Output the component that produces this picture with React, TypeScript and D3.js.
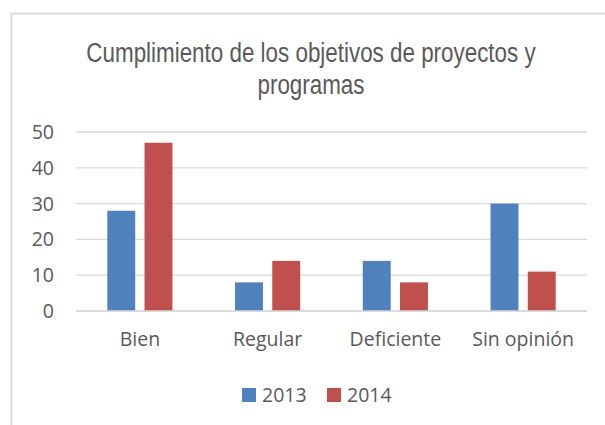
import React, { useEffect, useRef } from 'react';
import * as d3 from 'd3';

const categories = ['Bien', 'Regular', 'Deficiente', 'Sin opinión'];
const seriesNames = ['2013', '2014'];
const values2013 = [28, 8, 14, 30];
const values2014 = [47, 14, 8, 11];
const yTicks = [0, 10, 20, 30, 40, 50];
const titleLines = ['Cumplimiento de los objetivos de proyectos y', 'programas'];

const colors = ['#4f81bd', '#c0504d'];
const textColor = '#595959';
const labelFont = '"Open Sans", "Noto Sans", sans-serif';
const titleFont = '"Liberation Sans", Arial, sans-serif';

export default function App() {
  const svgRef = useRef<SVGSVGElement | null>(null);

  useEffect(() => {
    const svg = d3.select(svgRef.current);
    svg.selectAll('*').remove();

    const width = 605;
    const height = 425;
    const plot = { left: 76, right: 587, top: 132, bottom: 311 };

    // chart frame (only top and left show, the rest is cut off)
    svg.append('rect')
      .attr('x', 11.5).attr('y', 13.5)
      .attr('width', 620).attr('height', 430)
      .attr('fill', '#fff')
      .attr('stroke', '#d9d9d9')
      .attr('stroke-width', 2);

    const x0 = d3.scaleBand().domain(categories).range([plot.left, plot.right]).paddingInner(0.49).paddingOuter(0.245);
    const x1 = d3.scaleBand().domain(seriesNames).range([0, x0.bandwidth()]).paddingInner(0.25);
    const y = d3.scaleLinear().domain([0, 50]).range([plot.bottom, plot.top]);

    // title (narrow look: squeeze horizontally)
    const titleCx = 311;
    svg.append('g')
      .attr('transform', 'translate(' + titleCx + ',0) scale(0.8,1)')
      .selectAll('text')
      .data(titleLines)
      .join('text')
      .attr('x', 0)
      .attr('y', (d, i) => 62 + i * 32)
      .attr('text-anchor', 'middle')
      .attr('font-family', titleFont)
      .attr('font-size', 28)
      .attr('fill', textColor)
      .text(d => d);

    // gridlines
    svg.append('g').selectAll('line')
      .data(yTicks)
      .join('line')
      .attr('x1', plot.left).attr('x2', plot.right)
      .attr('y1', d => y(d)).attr('y2', d => y(d))
      .attr('stroke', '#d9d9d9')
      .attr('stroke-width', 1.3);

    // y labels
    svg.append('g').selectAll('text')
      .data(yTicks)
      .join('text')
      .attr('x', 54)
      .attr('y', d => y(d) + 7)
      .attr('text-anchor', 'end')
      .attr('font-family', labelFont)
      .attr('font-size', 19.5)
      .attr('fill', textColor)
      .text(d => d);

    // bars
    const rows = categories.map((c, i) => ({ c, vals: [values2013[i], values2014[i]] }));
    const groups = svg.append('g').selectAll('g')
      .data(rows)
      .join('g')
      .attr('transform', d => 'translate(' + x0(d.c) + ',0)');
    groups.selectAll('rect')
      .data(d => d.vals.map((v, j) => ({ v, s: seriesNames[j], j })))
      .join('rect')
      .attr('x', d => x1(d.s)!)
      .attr('width', x1.bandwidth())
      .attr('y', d => y(d.v))
      .attr('height', d => y(0) - y(d.v))
      .attr('fill', d => colors[d.j]);

    // redraw baseline on top
    svg.append('line')
      .attr('x1', plot.left).attr('x2', plot.right)
      .attr('y1', y(0)).attr('y2', y(0))
      .attr('stroke', '#d9d9d9').attr('stroke-width', 1.3);

    // category labels
    svg.append('g').selectAll('text')
      .data(categories)
      .join('text')
      .attr('x', d => x0(d)! + x0.bandwidth() / 2)
      .attr('y', 346)
      .attr('text-anchor', 'middle')
      .attr('font-family', labelFont)
      .attr('font-size', 19.5)
      .attr('fill', textColor)
      .text(d => d);

    // legend
    const legendX = [242, 327];
    const legend = svg.append('g').selectAll('g')
      .data(seriesNames)
      .join('g')
      .attr('transform', (d, i) => 'translate(' + legendX[i] + ',388)');
    legend.append('rect')
      .attr('width', 14).attr('height', 14)
      .attr('fill', (d, i) => colors[i]);
    legend.append('text')
      .attr('x', 20).attr('y', 14)
      .attr('font-family', labelFont)
      .attr('font-size', 19.5)
      .attr('fill', textColor)
      .text(d => d);

    svg.attr('width', width).attr('height', height);
  }, []);

  return (
    <div style={{ position: 'absolute', left: 0, top: 0 }}>
      <svg ref={svgRef} width={605} height={425} style={{ display: 'block' }} />
    </div>
  );
}
